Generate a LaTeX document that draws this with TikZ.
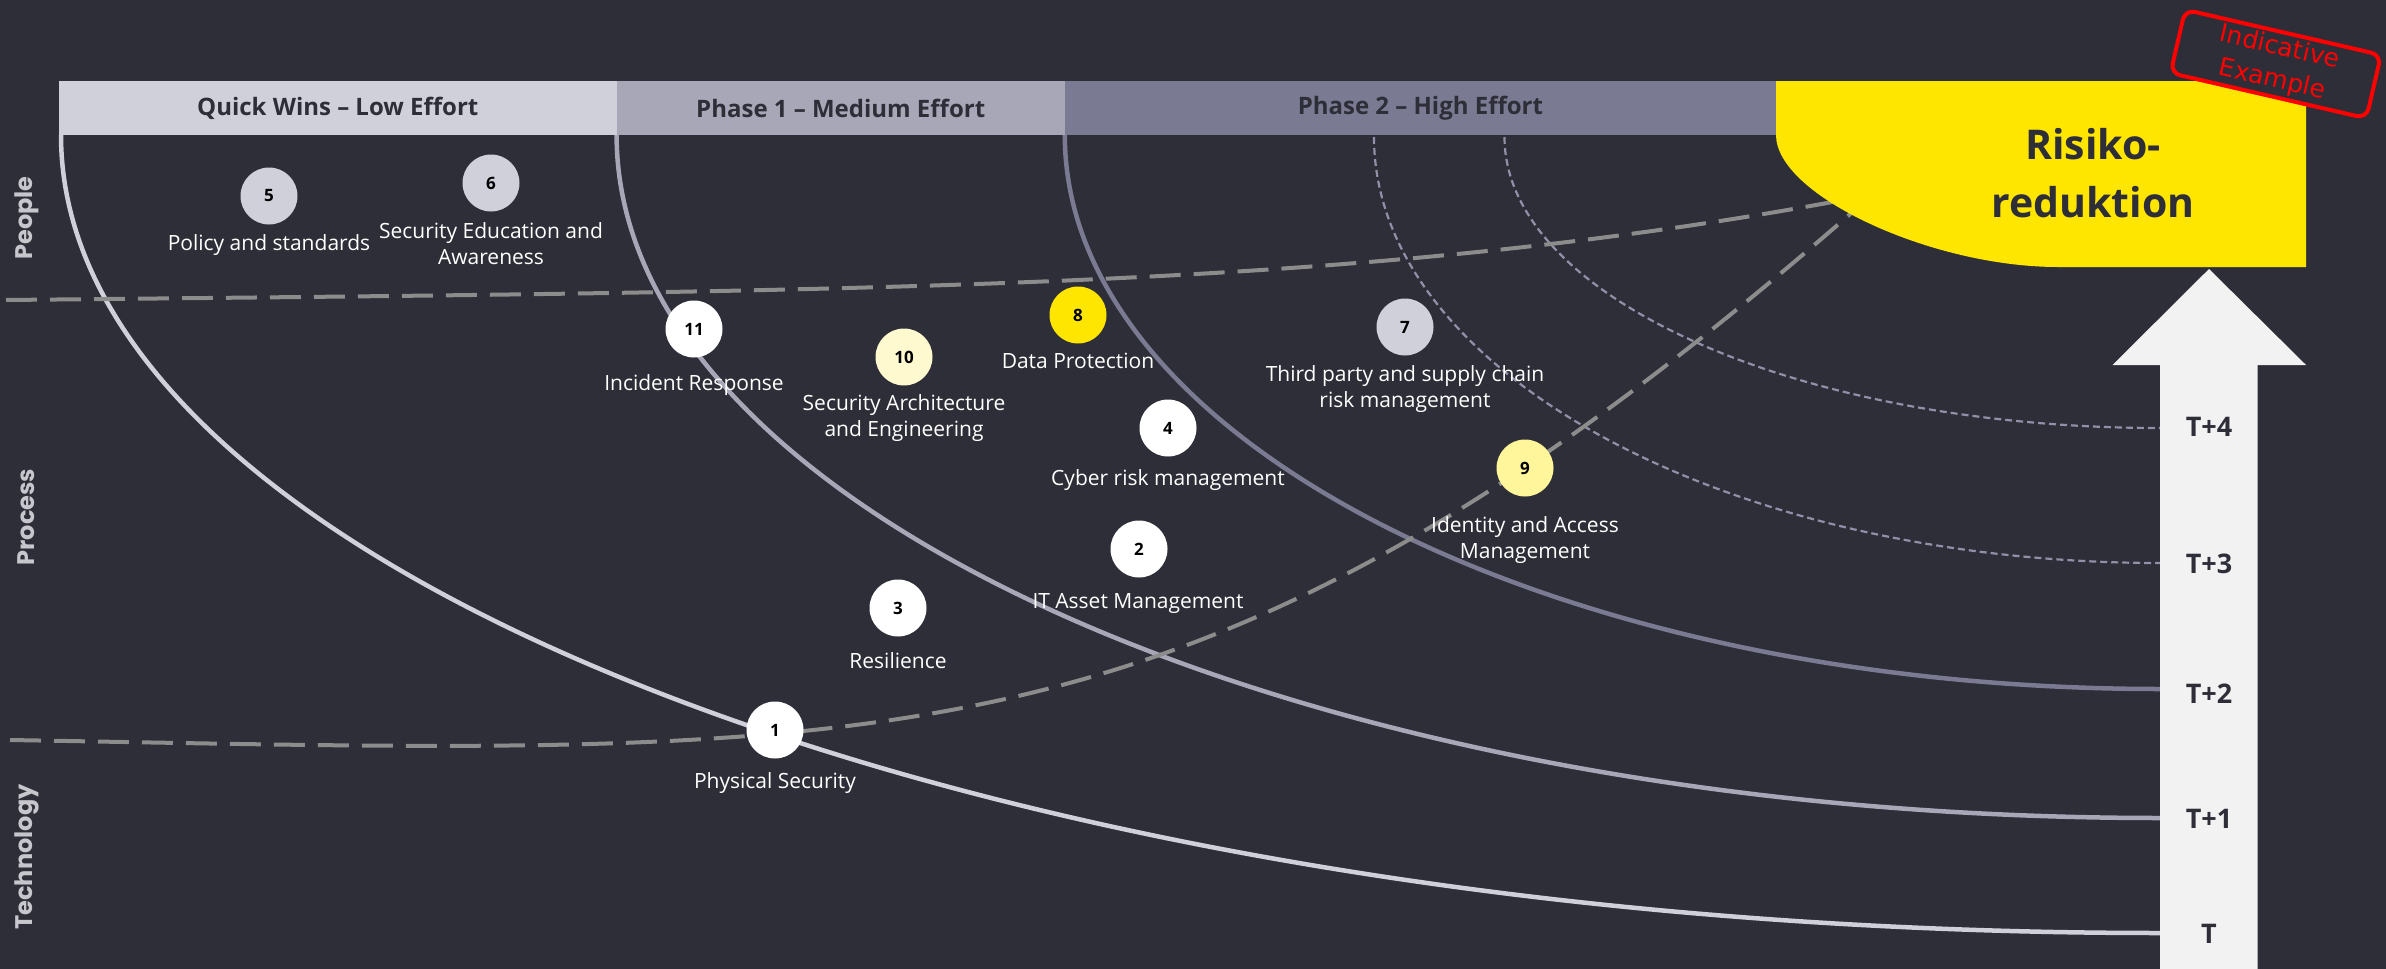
\documentclass[tikz,border=0pt]{standalone}
\usepackage{fontspec}
\setmainfont{Open Sans}
\newfontfamily\sidefont{Poppins}
\newfontfamily\stampfont{DejaVu Sans}
\usetikzlibrary{positioning}

\definecolor{eybg}{HTML}{2E2E38}
\definecolor{eyyellow}{HTML}{FFE600}
\definecolor{quickgray}{HTML}{D0D0DA}
\definecolor{phaseone}{HTML}{A7A7B8}
\definecolor{phasetwo}{HTML}{7A7A92}
\definecolor{thinline}{HTML}{9090A8}
\definecolor{splitgray}{HTML}{8C8C8C}
\definecolor{paleyellow}{HTML}{FFF59A}
\definecolor{creamyellow}{HTML}{FFF9D0}
\definecolor{sidegray}{HTML}{C6C6CC}
\definecolor{arrowwhite}{HTML}{F2F2F2}
\definecolor{stampred}{HTML}{FF0000}

\begin{document}
\begin{tikzpicture}[x=1pt, y=-1pt,
  hdr/.style={fill=#1, minimum height=54, inner sep=0, outer sep=0, text=eybg,
    font=\fontsize{24}{28}\selectfont\bfseries},
  item/.style={circle, fill=#1, minimum size=57, inner sep=0,
    font=\fontsize{17}{20}\selectfont\bfseries},
  lbl/.style={text=white, align=center, inner sep=0,
    font=\fontsize{21}{26}\selectfont},
  tlbl/.style={text=eybg, inner sep=0, font=\fontsize{27}{30}\selectfont\bfseries},
  side/.style={text=sidegray, rotate=90, inner sep=0,
    font=\sidefont\fontsize{24}{28}\selectfont\bfseries},
  split/.style={draw=splitgray, line width=4, dash pattern=on 31pt off 13pt},
  horizon/.style={draw=thinline, line width=2.2, dash pattern=on 7pt off 4pt}]
\useasboundingbox (0,0) rectangle (2386,969);
\fill[eybg] (0,0) rectangle (2386,969);

\coordinate (S0) at (61,135);
\coordinate (S1) at (616.6,135);
\coordinate (S2) at (1064.8,135);
\coordinate (S3) at (1374,137);
\coordinate (S4) at (1504.5,137);
\coordinate (E0) at (2160,933);
\coordinate (E1) at (2160,818);
\coordinate (E2) at (2160,689);
\coordinate (E3) at (2160,563);
\coordinate (E4) at (2160,428);

\node[hdr=quickgray, minimum width=557.6, anchor=north west] (quick) at (59,81) {Quick Wins – Low Effort};
\node[hdr=phaseone, minimum width=448.2, right=0pt of quick] (phase1) {Phase 1 – Medium Effort};
\node[hdr=phasetwo, minimum width=711.2, right=0pt of phase1] (phase2) {Phase 2 – High Effort};

\draw[quickgray, line width=4.5] (S0) .. controls (61,576) and (1001,933) .. (E0);
\draw[phaseone, line width=4.5] (S1) .. controls (616.6,512) and (1307,818) .. (E1);
\draw[phasetwo, line width=4.5] (S2) .. controls (1064.8,441) and (1555,689) .. (E2);
\draw[horizon] (S3) .. controls (1374,371) and (1726,563) .. (E3);
\draw[horizon] (S4) .. controls (1504.5,297) and (1798,428) .. (E4);

\draw[split] (6,300) .. controls (906,291) and (1380,289) .. (1870,195);
\draw[split] (10,740) .. controls (900,755) and (1196,784) .. (1856,209);

\fill[eyyellow] (1776,81) -- (2306,81) -- (2306,267) -- (2058,267) .. controls (1931,267) and (1776,195) .. (1776,135) -- cycle;
\node[text=eybg, inner sep=0, anchor=base, font=\fontsize{41}{58}\selectfont\bfseries] (risk1) at (2093,159) {Risiko-};
\node[text=eybg, inner sep=0, anchor=base, font=\fontsize{41}{58}\selectfont\bfseries] (risk2) at (2093,217) {reduktion};

\fill[arrowwhite] (2160,969) -- (2160,365) -- (2112.5,365) -- (2209,269) -- (2306,365) -- (2257.7,365) -- (2257.7,969) -- cycle;
\node[tlbl] (time4) at (2209,427) {T+4};
\node[tlbl] (time3) at (2209,564) {T+3};
\node[tlbl] (time2) at (2209,694) {T+2};
\node[tlbl] (time1) at (2209,819) {T+1};
\node[tlbl] (time0) at (2209,934) {T};

\node[side] (people) at (27,218) {People};
\node[side] (process) at (26,517) {Process};
\node[side] (tech) at (27,857) {Technology};

\node[item=white] (n1) at (775,730) {1};
\node[item=white] (n2) at (1139,549) {2};
\node[item=white] (n3) at (898,608) {3};
\node[item=white] (n4) at (1168,428) {4};
\node[item=quickgray] (n5) at (269,196) {5};
\node[item=quickgray] (n6) at (491,183) {6};
\node[item=quickgray] (n7) at (1405,327) {7};
\node[item=eyyellow] (n8) at (1078,315) {8};
\node[item=paleyellow] (n9) at (1525,468) {9};
\node[item=creamyellow] (n10) at (904,357) {10};
\node[item=white] (n11) at (694,329) {11};

\node[lbl] (l1) at (775,783) {Physical Security};
\node[lbl] (l2) at (1138,603) {IT Asset Management};
\node[lbl] (l3) at (898,661) {Resilience};
\node[lbl] (l4) at (1168,480) {Cyber risk management};
\node[lbl] (l5) at (269,245) {Policy and standards};
\node[lbl] (l6) at (491,244) {Security Education and\\Awareness};
\node[lbl] (l7) at (1405,389) {Third party and supply chain\\risk management};
\node[lbl] (l8) at (1078,361) {Data Protection};
\node[lbl] (l9) at (1525,540) {Identity and Access\\Management};
\node[lbl] (l10) at (904,418) {Security Architecture\\and Engineering};
\node[lbl] (l11) at (694,385) {Incident Response};

\node[draw=stampred, line width=4, rounded corners=10, fill=eybg, text=stampred, rotate=-13,
  minimum width=201, minimum height=65, align=center, inner sep=0,
  font=\stampfont\fontsize{25}{33}\selectfont] (stamp) at (2275.75,64) {Indicative\\Example};
\end{tikzpicture}
\end{document}
